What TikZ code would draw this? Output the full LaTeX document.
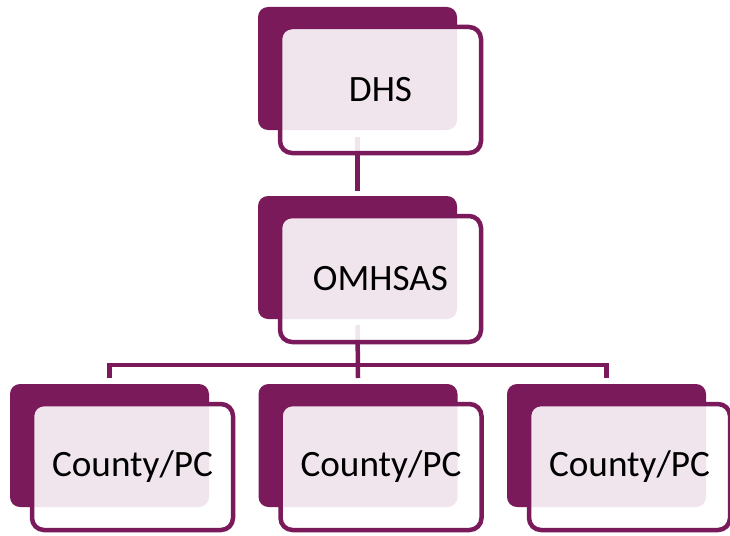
\documentclass[tikz,border=0pt]{standalone}
\usepackage{fontspec}
\setmainfont{Carlito}
\usetikzlibrary{positioning}
\definecolor{plum}{RGB}{122,26,91}
\tikzset{
  back/.style={rectangle, rounded corners=10pt, fill=plum, inner sep=0pt, outer sep=0pt,
    minimum width=199pt, minimum height=123pt, anchor=north west},
  front/.style={rectangle, rounded corners=12pt, draw=plum, line width=4.5pt, fill=white,
    fill opacity=0.89, text opacity=1, inner sep=0pt, outer sep=0pt,
    minimum width=201pt, minimum height=126pt,
    font=\fontsize{37.2}{44}\selectfont},
  link/.style={draw=plum, line width=4.5pt}
}
\begin{document}
\begin{tikzpicture}[x=1pt,y=-1pt]
      \useasboundingbox (0,0) rectangle (730,535);
      \node[back] (dhsb) at (258,7) {};
      \node[back] (omhb) at (258,196) {};
      \node[back] (c1b) at (10,384) {};
      \node[back] (c2b) at (258.5,384) {};
      \node[back] (c3b) at (507,384) {};
      \begin{scope}[link]
        \draw ([yshift=-7pt]dhsb.south) to ([yshift=5pt]omhb.north);
        \draw ([yshift=-6pt]omhb.south) to ([yshift=6pt]c2b.north);
        \draw ([yshift=6pt]c1b.north) -- ++(0,-13) -| ([yshift=6pt]c3b.north);
      \end{scope}
      \node[front, below right=20pt and 22pt of dhsb.north west] (dhs) {DHS};
      \node[front, below right=20pt and 22pt of omhb.north west] (omh) {OMHSAS};
      \node[front, below right=20pt and 22pt of c1b.north west] (c1) {County/PC};
      \node[front, below right=20pt and 22pt of c2b.north west] (c2) {County/PC};
      \node[front, below right=20pt and 22pt of c3b.north west] (c3) {County/PC};
    \end{tikzpicture}
\end{document}
